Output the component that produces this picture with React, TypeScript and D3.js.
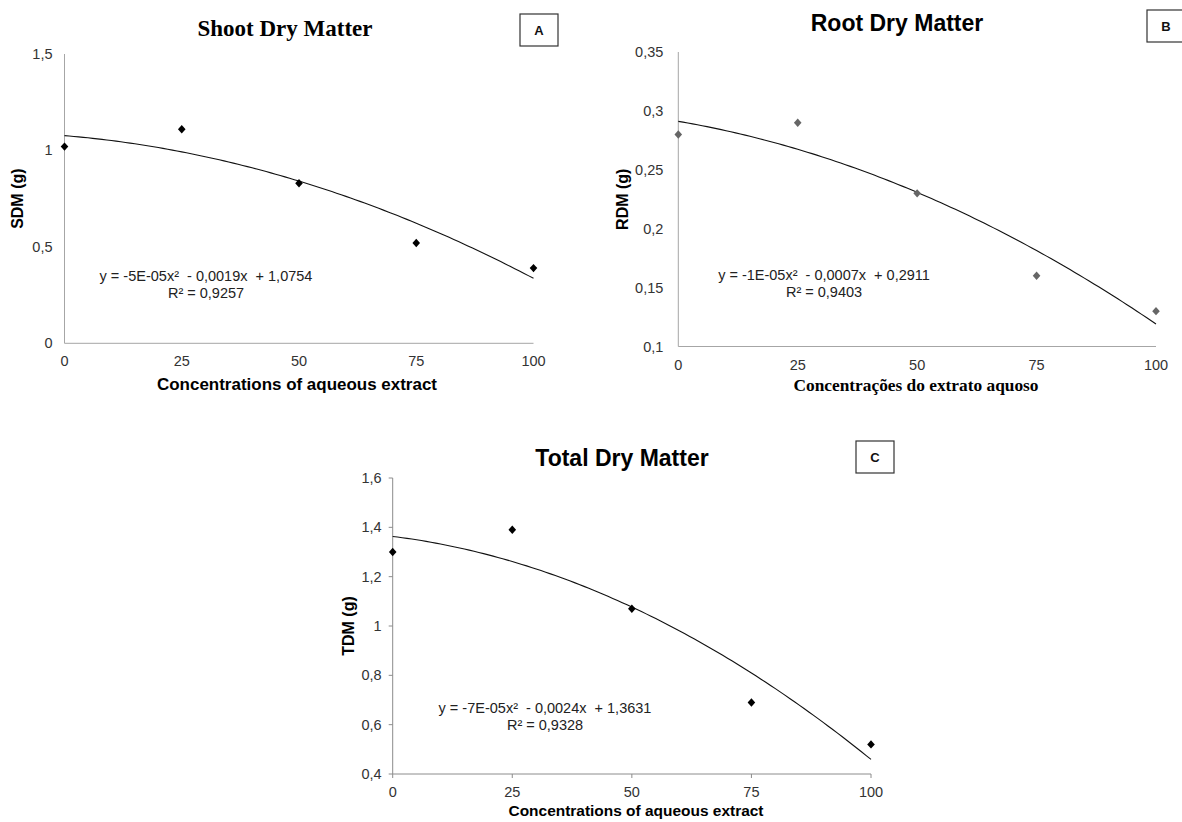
import React from "react";
import * as d3 from "d3";

// ---------- data ----------
const concentrations = [0, 25, 50, 75, 100];
const xTickValues = [0, 25, 50, 75, 100];

const sdmValues = [1.02, 1.11, 0.83, 0.52, 0.39];
const rdmValues = [0.28, 0.29, 0.23, 0.16, 0.13];
const tdmValues = [1.3, 1.39, 1.07, 0.69, 0.52];

const sdmTicks = [0, 0.5, 1, 1.5];
const rdmTicks = [0.1, 0.15, 0.2, 0.25, 0.3, 0.35];
const tdmTicks = [0.4, 0.6, 0.8, 1, 1.2, 1.4, 1.6];

const sdmEquation = ["y = -5E-05x²  - 0,0019x  + 1,0754", "R² = 0,9257"];
const rdmEquation = ["y = -1E-05x²  - 0,0007x  + 0,2911", "R² = 0,9403"];
const tdmEquation = ["y = -7E-05x²  - 0,0024x  + 1,3631", "R² = 0,9328"];

const SANS = "'Liberation Sans', Arial, sans-serif";
const SERIF = "'Liberation Serif', 'Times New Roman', serif";

// least squares quadratic fit
function quadFit(xs: number[], ys: number[]) {
  const n = xs.length;
  let s0 = n, s1 = 0, s2 = 0, s3 = 0, s4 = 0, t0 = 0, t1 = 0, t2 = 0;
  for (let i = 0; i < n; i++) {
    const x = xs[i], y = ys[i];
    s1 += x; s2 += x * x; s3 += x * x * x; s4 += x * x * x * x;
    t0 += y; t1 += x * y; t2 += x * x * y;
  }
  const M = [
    [s0, s1, s2, t0],
    [s1, s2, s3, t1],
    [s2, s3, s4, t2],
  ];
  for (let i = 0; i < 3; i++) {
    let p = i;
    for (let r = i + 1; r < 3; r++) if (Math.abs(M[r][i]) > Math.abs(M[p][i])) p = r;
    [M[i], M[p]] = [M[p], M[i]];
    for (let r = 0; r < 3; r++) {
      if (r === i) continue;
      const f = M[r][i] / M[i][i];
      for (let c = i; c < 4; c++) M[r][c] -= f * M[i][c];
    }
  }
  const c = M[0][3] / M[0][0];
  const b = M[1][3] / M[1][1];
  const a = M[2][3] / M[2][2];
  return (x: number) => a * x * x + b * x + c;
}

const fmt = (v: number) => String(+v.toFixed(2)).replace(".", ",");

type PanelProps = {
  x0: number; x1: number; yTop: number; yBottom: number;
  domain: [number, number];
  ticks: number[];
  values: number[];
  title: string; titleFont: string; titleX: number; titleY: number; titleSize: number;
  letter: string; box: [number, number, number, number];
  yLabel: string; yLabelX: number;
  xLabel: string; xLabelFont: string; xLabelX: number; xLabelY: number; xLabelSize: number; xLabelLen?: number;
  eq: string[]; eqX: number; eqY: number;
  markerColor: string; axisColor: string; tickMarks: boolean;
  yTickGap: number; xTickY: number;
};

function Panel(p: PanelProps) {
  const x = d3.scaleLinear().domain([0, 100]).range([p.x0, p.x1]);
  const y = d3.scaleLinear().domain(p.domain).range([p.yBottom, p.yTop]);
  const fit = quadFit(concentrations, p.values);
  const line = d3
    .line<number>()
    .x((d) => x(d))
    .y((d) => y(fit(d)))
    .curve(d3.curveLinear);
  const samples = d3.range(0, 100.5, 1);
  const diamond = (cx: number, cy: number) =>
    `M${cx},${cy - 4.2}L${cx + 3.8},${cy}L${cx},${cy + 4.2}L${cx - 3.8},${cy}Z`;
  return (
    <g>
      <text
        x={p.titleX}
        y={p.titleY}
        textAnchor="middle"
        fontFamily={p.titleFont}
        fontWeight="bold"
        fontSize={p.titleSize}
        fill="#000"
      >
        {p.title}
      </text>
      <rect
        x={p.box[0]}
        y={p.box[1]}
        width={p.box[2]}
        height={p.box[3]}
        fill="#fff"
        stroke="#333"
        strokeWidth={1.2}
      />
      <text
        x={p.box[0] + 19}
        y={p.box[1] + p.box[3] / 2 + 5}
        textAnchor="middle"
        fontFamily={SANS}
        fontWeight="bold"
        fontSize={13}
        fill="#111"
      >
        {p.letter}
      </text>
      {/* axes */}
      <line x1={p.x0} x2={p.x0} y1={p.yTop} y2={p.yBottom} stroke={p.axisColor} strokeWidth={1} />
      <line x1={p.x0} x2={p.x1} y1={p.yBottom} y2={p.yBottom} stroke={p.axisColor} strokeWidth={1} />
      {p.ticks.map((t) => (
        <g key={"y" + t}>
          {p.tickMarks && (
            <line x1={p.x0 - 4} x2={p.x0} y1={y(t)} y2={y(t)} stroke={p.axisColor} />
          )}
          <text
            x={p.x0 - p.yTickGap}
            y={y(t) + 5}
            textAnchor="end"
            fontFamily={SANS}
            fontSize={14.5}
            fill="#333"
          >
            {fmt(t)}
          </text>
        </g>
      ))}
      {xTickValues.map((t) => (
        <g key={"x" + t}>
          {p.tickMarks && (
            <line x1={x(t)} x2={x(t)} y1={p.yBottom} y2={p.yBottom + 4} stroke={p.axisColor} />
          )}
          <text
            x={x(t)}
            y={p.xTickY + 5}
            textAnchor="middle"
            fontFamily={SANS}
            fontSize={14.5}
            fill="#333"
          >
            {t}
          </text>
        </g>
      ))}
      {/* trend */}
      <path d={line(samples) || ""} fill="none" stroke="#111" strokeWidth={1.1} />
      {/* points */}
      {concentrations.map((c, i) => (
        <path key={"p" + c} d={diamond(x(c), y(p.values[i]))} fill={p.markerColor} />
      ))}
      {/* labels */}
      <text
        transform={`translate(${p.yLabelX},${(p.yTop + p.yBottom) / 2}) rotate(-90)`}
        textAnchor="middle"
        fontFamily={SANS}
        fontWeight="bold"
        fontSize={16}
        dy={6}
        fill="#000"
      >
        {p.yLabel}
      </text>
      <text
        x={p.xLabelX}
        y={p.xLabelY + 5}
        textAnchor="middle"
        fontFamily={p.xLabelFont}
        fontWeight="bold"
        fontSize={p.xLabelSize}
        fill="#000"
        {...(p.xLabelLen ? { textLength: p.xLabelLen, lengthAdjust: "spacingAndGlyphs" } : {})}
      >
        {p.xLabel}
      </text>
      {p.eq.map((s, i) => (
        <text
          key={"eq" + i}
          x={p.eqX}
          y={p.eqY + i * 17}
          textAnchor="middle"
          fontFamily={SANS}
          fontSize={14.5}
          fill="#222"
          style={{ whiteSpace: "pre" }}
        >
          {s}
        </text>
      ))}
    </g>
  );
}

export default function App() {
  return (
    <svg
      width={1182}
      height={822}
      style={{ position: "absolute", left: 0, top: 0, background: "#fff" }}
    >
      <rect x={0} y={0} width={1182} height={822} fill="#fff" />
      <Panel
        x0={64.5} x1={533.5} yTop={54} yBottom={343.3}
        domain={[0, 1.5]} ticks={sdmTicks} values={sdmValues}
        title="Shoot Dry Matter" titleFont={SERIF} titleX={285} titleY={36} titleSize={23}
        letter="A" box={[520, 14, 38, 32]}
        yLabel="SDM (g)" yLabelX={17}
        xLabel="Concentrations of aqueous extract" xLabelFont={SANS} xLabelX={297} xLabelY={385} xLabelSize={16.5} xLabelLen={280}
        eq={sdmEquation} eqX={206} eqY={281}
        markerColor="#000" axisColor="#a6a6a6" tickMarks={false}
        yTickGap={12} xTickY={361}
      />
      <Panel
        x0={678.3} x1={1156} yTop={52} yBottom={346.5}
        domain={[0.1, 0.35]} ticks={rdmTicks} values={rdmValues}
        title="Root Dry Matter" titleFont={SANS} titleX={897} titleY={31} titleSize={23}
        letter="B" box={[1147, 10, 40, 32]}
        yLabel="RDM (g)" yLabelX={622}
        xLabel="Concentrações do extrato aquoso" xLabelFont={SERIF} xLabelX={916} xLabelY={386} xLabelSize={17} xLabelLen={245}
        eq={rdmEquation} eqX={824} eqY={280}
        markerColor="#666" axisColor="#a6a6a6" tickMarks={false}
        yTickGap={15} xTickY={365}
      />
      <Panel
        x0={392.7} x1={871} yTop={478} yBottom={774}
        domain={[0.4, 1.6]} ticks={tdmTicks} values={tdmValues}
        title="Total Dry Matter" titleFont={SANS} titleX={622} titleY={466} titleSize={23}
        letter="C" box={[856, 441, 38, 32]}
        yLabel="TDM (g)" yLabelX={348}
        xLabel="Concentrations of aqueous extract" xLabelFont={SANS} xLabelX={636} xLabelY={811} xLabelSize={15.5} xLabelLen={255}
        eq={tdmEquation} eqX={545} eqY={713}
        markerColor="#000" axisColor="#8c8c8c" tickMarks={true}
        yTickGap={11} xTickY={791.5}
      />
    </svg>
  );
}
